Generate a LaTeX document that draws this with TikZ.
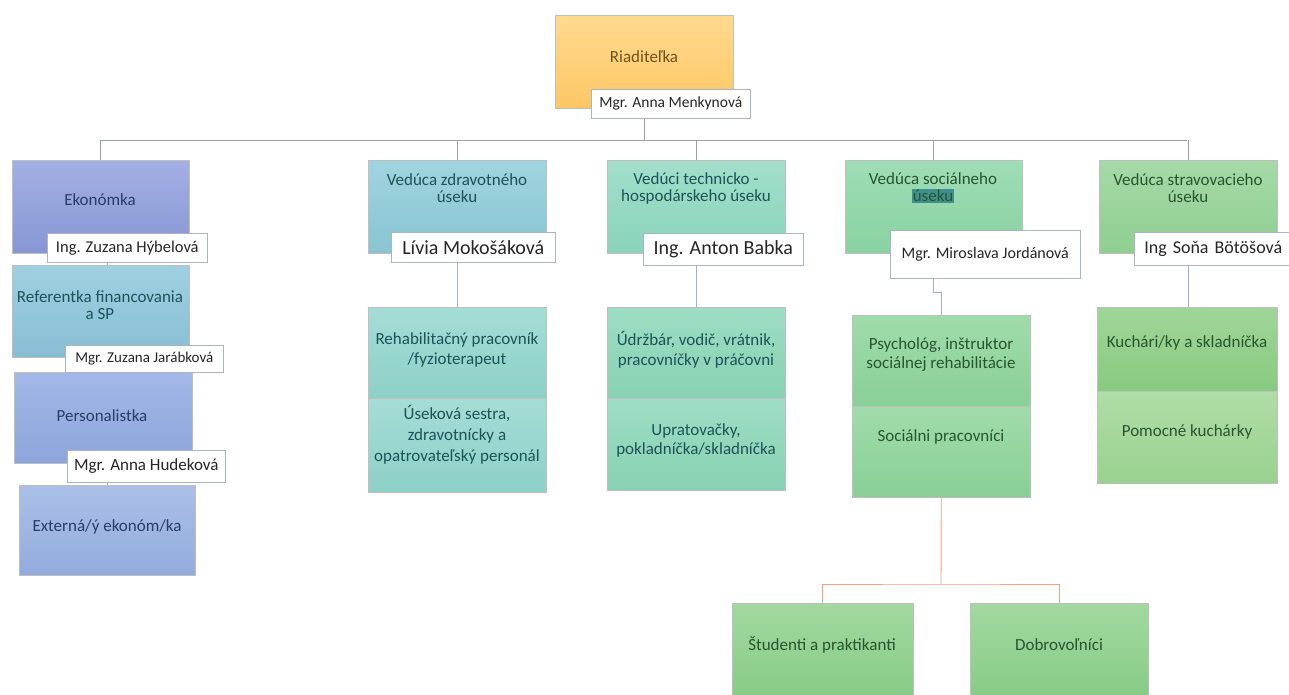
\documentclass[tikz,border=0pt]{standalone}
\usepackage{fontspec}
\setmainfont{Carlito}
\usetikzlibrary{backgrounds}
\definecolor{orT}{HTML}{FFD98F}\definecolor{orB}{HTML}{FDC765}
\definecolor{ekT}{HTML}{A4B0E4}\definecolor{ekB}{HTML}{8797D4}
\definecolor{refT}{HTML}{9FD0E2}\definecolor{refB}{HTML}{88BED3}
\definecolor{perT}{HTML}{A3B8E8}\definecolor{perB}{HTML}{8DA5DB}
\definecolor{extT}{HTML}{ABC0E8}\definecolor{extB}{HTML}{93ACDC}
\definecolor{zdT}{HTML}{9FD5DF}\definecolor{zdB}{HTML}{88C4D1}
\definecolor{rhT}{HTML}{A4DDD6}\definecolor{rhB}{HTML}{8DD0C8}
\definecolor{thT}{HTML}{A2DFCB}\definecolor{thB}{HTML}{8AD3BA}
\definecolor{udT}{HTML}{9EDDC4}\definecolor{udB}{HTML}{88D1B2}
\definecolor{soT}{HTML}{9FDDB6}\definecolor{soB}{HTML}{89D2A1}
\definecolor{psT}{HTML}{A0DCAA}\definecolor{psB}{HTML}{89CF96}
\definecolor{stT}{HTML}{A5DAA7}\definecolor{stB}{HTML}{8FCE91}
\definecolor{kuT}{HTML}{9FD698}\definecolor{kuB}{HTML}{88CA80}
\definecolor{poT}{HTML}{B0DDA7}\definecolor{poB}{HTML}{99D18F}
\definecolor{grT}{HTML}{A2D9A0}\definecolor{grB}{HTML}{86CB85}
\definecolor{txBlue}{HTML}{2A3C6A}
\definecolor{txTeal}{HTML}{1C5358}
\definecolor{txGreen}{HTML}{28552F}
\definecolor{txOr}{HTML}{6E5220}
\definecolor{lblc}{HTML}{A9B4C4}
\definecolor{connc}{HTML}{9AA0A8}
\definecolor{subc}{HTML}{9EB2C8}
\definecolor{oconnc}{HTML}{F3A17E}
\definecolor{hlc}{HTML}{3F8F8C}
\tikzset{
  orgbox/.style={draw=black!25, line width=0.5pt, anchor=north west, inner sep=0pt},
  sz/.style 2 args={minimum width=#1, minimum height=#2},
  shade2/.style 2 args={top color=#1, bottom color=#2},
  txt/.style={font=\fontsize{17}{#1}\selectfont, align=center, inner sep=0pt},
  txt/.default=20,
  namebox/.style={draw=lblc, fill=white, line width=0.6pt, anchor=north west, inner sep=0pt, align=center, text=black!85},
  conn/.style={draw=connc, line width=0.8pt},
  subconn/.style={draw=subc, line width=0.8pt},
  oconn/.style={draw=oconnc, line width=0.9pt}
}
\begin{document}
\begin{tikzpicture}[x=1pt,y=-1pt]
\useasboundingbox (0,0) rectangle (1289,695);

% ---- boxes ----
\node[orgbox, sz={178pt}{93pt}, shade2={orT}{orB}] (rl) at (555,15) {};
\node[orgbox, sz={177pt}{93pt}, shade2={ekT}{ekB}] (ek) at (12,160) {};
\node[orgbox, sz={177pt}{92pt}, shade2={refT}{refB}] (ref) at (12,265) {};
\node[orgbox, sz={178pt}{91pt}, shade2={perT}{perB}] (per) at (14,372) {};
\node[orgbox, sz={176pt}{90pt}, shade2={extT}{extB}] (ext) at (19,485) {};
\node[orgbox, sz={178pt}{93pt}, shade2={zdT}{zdB}] (zd) at (368,160) {};
\node[orgbox, sz={178pt}{91pt}, shade2={rhT}{rhB}] (rh) at (368,307) {};
\node[orgbox, sz={178pt}{94pt}, shade2={rhT}{rhB}] (us) at (368,398) {};
\node[orgbox, sz={178pt}{93pt}, shade2={thT}{thB}] (th) at (607,160) {};
\node[orgbox, sz={178pt}{91pt}, shade2={udT}{udB}] (ud) at (607,307) {};
\node[orgbox, sz={178pt}{92pt}, shade2={udT}{udB}] (up) at (607,398) {};
\node[orgbox, sz={177pt}{93pt}, shade2={soT}{soB}] (so) at (845,160) {};
\node[orgbox, sz={178pt}{91pt}, shade2={psT}{psB}] (ps) at (852,315) {};
\node[orgbox, sz={178pt}{91pt}, shade2={psT}{psB}] (sp) at (852,406) {};
\node[orgbox, sz={178pt}{93pt}, shade2={stT}{stB}] (st) at (1099,160) {};
\node[orgbox, sz={180pt}{84pt}, shade2={kuT}{kuB}] (ku) at (1097,307) {};
\node[orgbox, sz={180pt}{92pt}, shade2={poT}{poB}] (po) at (1097,391) {};
\node[orgbox, sz={181pt}{96pt}, shade2={grT}{grB}] (stu) at (732,603) {};
\node[orgbox, sz={178pt}{96pt}, shade2={grT}{grB}] (dob) at (970,603) {};

% ---- box texts ----
\node[txt, text=txOr] (trl) at (644,57) {Riaditeľka};
\node[txt, text=txBlue] (tek) at (100,200) {Ekonómka};
\node[txt=17, text=txTeal] (tref) at (100,305) {Referentka financovania\\a SP};
\node[txt, text=txBlue] (tper) at (102,416) {Personalistka};
\node[txt, text=txBlue] (text) at (107,527) {Externá/ý ekonóm/ka};
\node[txt=17, text=txTeal] (tzd) at (457,188) {Vedúca zdravotného\\úseku};
\node[txt=20, text=txTeal] (trh) at (457,350) {Rehabilitačný pracovník\\/fyzioterapeut};
\node[txt=21, text=txTeal] (tus) at (457,435) {Úseková sestra,\\zdravotnícky a\\opatrovateľský personál};
\node[txt=17, text=txTeal] (tth) at (696,188) {Vedúci technicko -\\hospodárskeho úseku};
\node[txt=20, text=txTeal] (tud) at (696,350) {Údržbár, vodič, vrátnik,\\pracovníčky v práčovni};
\node[txt=19, text=txTeal] (tup) at (696,440) {Upratovačky,\\pokladníčka/skladníčka};
\node[txt=17, text=txGreen] (tso) at (933,188) {Vedúca sociálneho\\{\setlength{\fboxsep}{1pt}\colorbox{hlc}{úseku}}};
\node[txt=19, text=txGreen] (tps) at (941,355) {Psychológ, inštruktor\\sociálnej rehabilitácie};
\node[txt, text=txGreen] (tsp) at (941,437) {Sociálni pracovníci};
\node[txt=17, text=txGreen] (tst) at (1188,188) {Vedúca stravovacieho\\úseku};
\node[txt, text=txGreen] (tku) at (1187,343) {Kuchári/ky a skladníčka};
\node[txt, text=txGreen] (tpo) at (1187,432) {Pomocné kuchárky};
\node[txt, text=txGreen] (tstu) at (822,645) {Študenti a praktikanti};
\node[txt, text=txGreen] (tdob) at (1059,645) {Dobrovoľníci};

% ---- name labels ----
\node[namebox, sz={159pt}{29pt}, font=\fontsize{15.5}{18}\selectfont] (rlab) at (591,89) {Mgr. Anna Menkynová};
\node[namebox, sz={160pt}{29pt}, font=\fontsize{16.5}{18}\selectfont] (eklab) at (47,233) {Ing. Zuzana Hýbelová};
\node[namebox, sz={158pt}{27pt}, font=\fontsize{15}{18}\selectfont] (reflab) at (65,345) {Mgr. Zuzana Jarábková};
\node[namebox, sz={158pt}{32pt}, font=\fontsize{17}{18}\selectfont] (perlab) at (67,450) {Mgr. Anna Hudeková};
\node[namebox, sz={164pt}{30pt}, font=\fontsize{20}{22}\selectfont] (zdlab) at (391,232) {Lívia Mokošáková};
\node[namebox, sz={160pt}{32pt}, font=\fontsize{20}{22}\selectfont] (thlab) at (643,233) {Ing. Anton Babka};
\node[namebox, sz={190pt}{48pt}, font=\fontsize{16}{18}\selectfont] (solab) at (890,230) {Mgr. Miroslava Jordánová};
\node[namebox, sz={170pt}{33pt}, font=\fontsize{18}{22}\selectfont, align=left, text width=150pt, inner xsep=10pt] (stlab) at (1134,232) {Ing Soňa Bötöšová};

% ---- connectors ----
\begin{pgfonlayer}{background}
\fill[white] (0,0) rectangle (1289,695);
\coordinate (busL) at (100,140);
\coordinate (busR) at (1187,140);
\draw[conn] (busL) -- (busR);
\draw[conn] (rl.center |- rlab.south) -- (rl.center |- busL);
\draw[conn] (ek.north) -- (ek.north |- busL);
\draw[conn] (zd.north) -- (zd.north |- busL);
\draw[conn] (th.north) -- (th.north |- busL);
\draw[conn] (so.north) -- (so.north |- busL);
\draw[conn] (st.north) -- (st.north |- busL);
\draw[subconn] (ek.south -| 107,0) -- (ref.north -| 107,0);
\draw[subconn] (ref.south -| 107,0) -- (per.north -| 107,0);
\draw[subconn] (per.south -| 107,0) -- (ext.north -| 107,0);
\draw[subconn] (zd.center |- zdlab.south) -- (rh.north);
\draw[subconn] (th.center |- thlab.south) -- (ud.north);
\draw[subconn] (so.center |- solab.south) -- ++(0,14) -| (ps.north);
\draw[subconn] (st.center |- stlab.south) -- (ku.north -| st.center);
\coordinate (obus) at (941,584);
\draw[oconn] (sp.south) -- (obus);
\draw[oconn] (stu.north) |- (obus) -| (dob.north);
\end{pgfonlayer}
\end{tikzpicture}
\end{document}
